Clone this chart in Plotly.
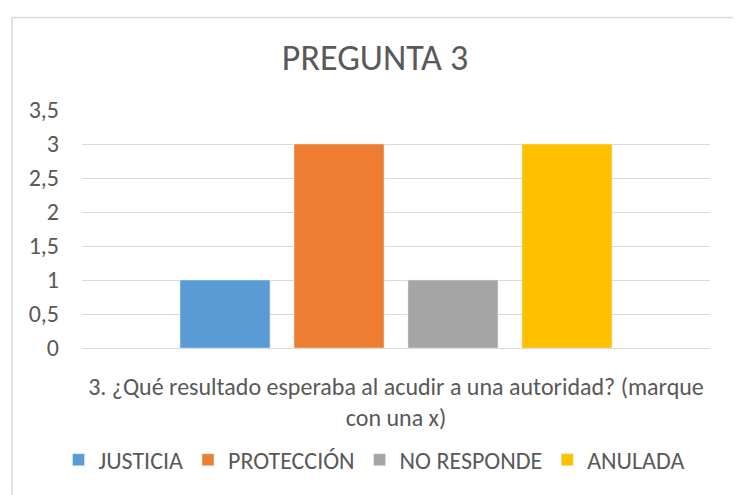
import plotly.graph_objects as go

# Datos de la pregunta 3
categoria = ["3. ¿Qué resultado esperaba al acudir a una autoridad? (marque<br>con una x)"]
series = ["JUSTICIA", "PROTECCIÓN", "NO RESPONDE", "ANULADA"]
valores = [1, 3, 1, 3]
colores = ["#5B9BD5", "#ED7D31", "#A5A5A5", "#FFC000"]
ticks_y = [0, 0.5, 1, 1.5, 2, 2.5, 3, 3.5]
ticks_y_txt = ["0", "0,5", "1", "1,5", "2", "2,5", "3", "3,5"]

fuente = "Carlito, Lato, sans-serif"
gris_txt = "#595959"

# la página pone el gráfico 8px a la derecha y abajo (margen del body),
# así que la figura se achica para que no aparezcan barras de desplazamiento
desp = 8
W, H = 741 - desp, 495 - desp
l, t, ancho_plot, alto_plot = 82 - desp, 110 - desp, 628, 242

fig = go.Figure()
for nombre, v, c in zip(series, valores, colores):
    fig.add_trace(go.Bar(x=categoria, y=[v], name=nombre, marker_color=c))

fig.update_layout(
    width=W, height=H,
    margin=dict(l=l, r=W - l - ancho_plot, t=t, b=H - t - alto_plot),
    paper_bgcolor="white", plot_bgcolor="white",
    barmode="group", bargap=0.274, bargroupgap=0.21,
    font=dict(family=fuente, color=gris_txt, size=24),
    title=dict(text="PREGUNTA 3", x=(375 - desp) / W, xanchor="center",
               y=1 - (57 - desp) / H, yanchor="middle",
               font=dict(size=36, color=gris_txt, family=fuente)),
    showlegend=True,
    legend=dict(orientation="h", x=0.5 - 22 / 628, xanchor="center", y=(352 - 466) / 242,
                yanchor="middle", font=dict(size=24, color=gris_txt), traceorder="normal"),
    hovermode=False,
)
fig.update_yaxes(range=[0, 3.5], tickvals=ticks_y, ticktext=ticks_y_txt,
                 showgrid=True, gridcolor="#D9D9D9", gridwidth=1.3,
                 zeroline=False, showline=False, ticks="", ticklabelstandoff=22,
                 tickfont=dict(size=24, color=gris_txt))
fig.update_xaxes(showline=True, linecolor="#D9D9D9", linewidth=1.3, ticks="",
                 ticklabelstandoff=17, tickfont=dict(size=24, color=gris_txt))

# marco del gráfico (el borde inferior queda fuera de la imagen)
fig.add_shape(type="rect", xref="paper", yref="paper",
              x0=(12 - 82) / 628, x1=(739 - 82) / 628,
              y0=(352 - 530) / 242, y1=(352 - 16) / 242,
              line=dict(color="#D9D9D9", width=1.5), fillcolor="rgba(0,0,0,0)", layer="below")

fig.write_html("out.html", config={"displayModeBar": False})
